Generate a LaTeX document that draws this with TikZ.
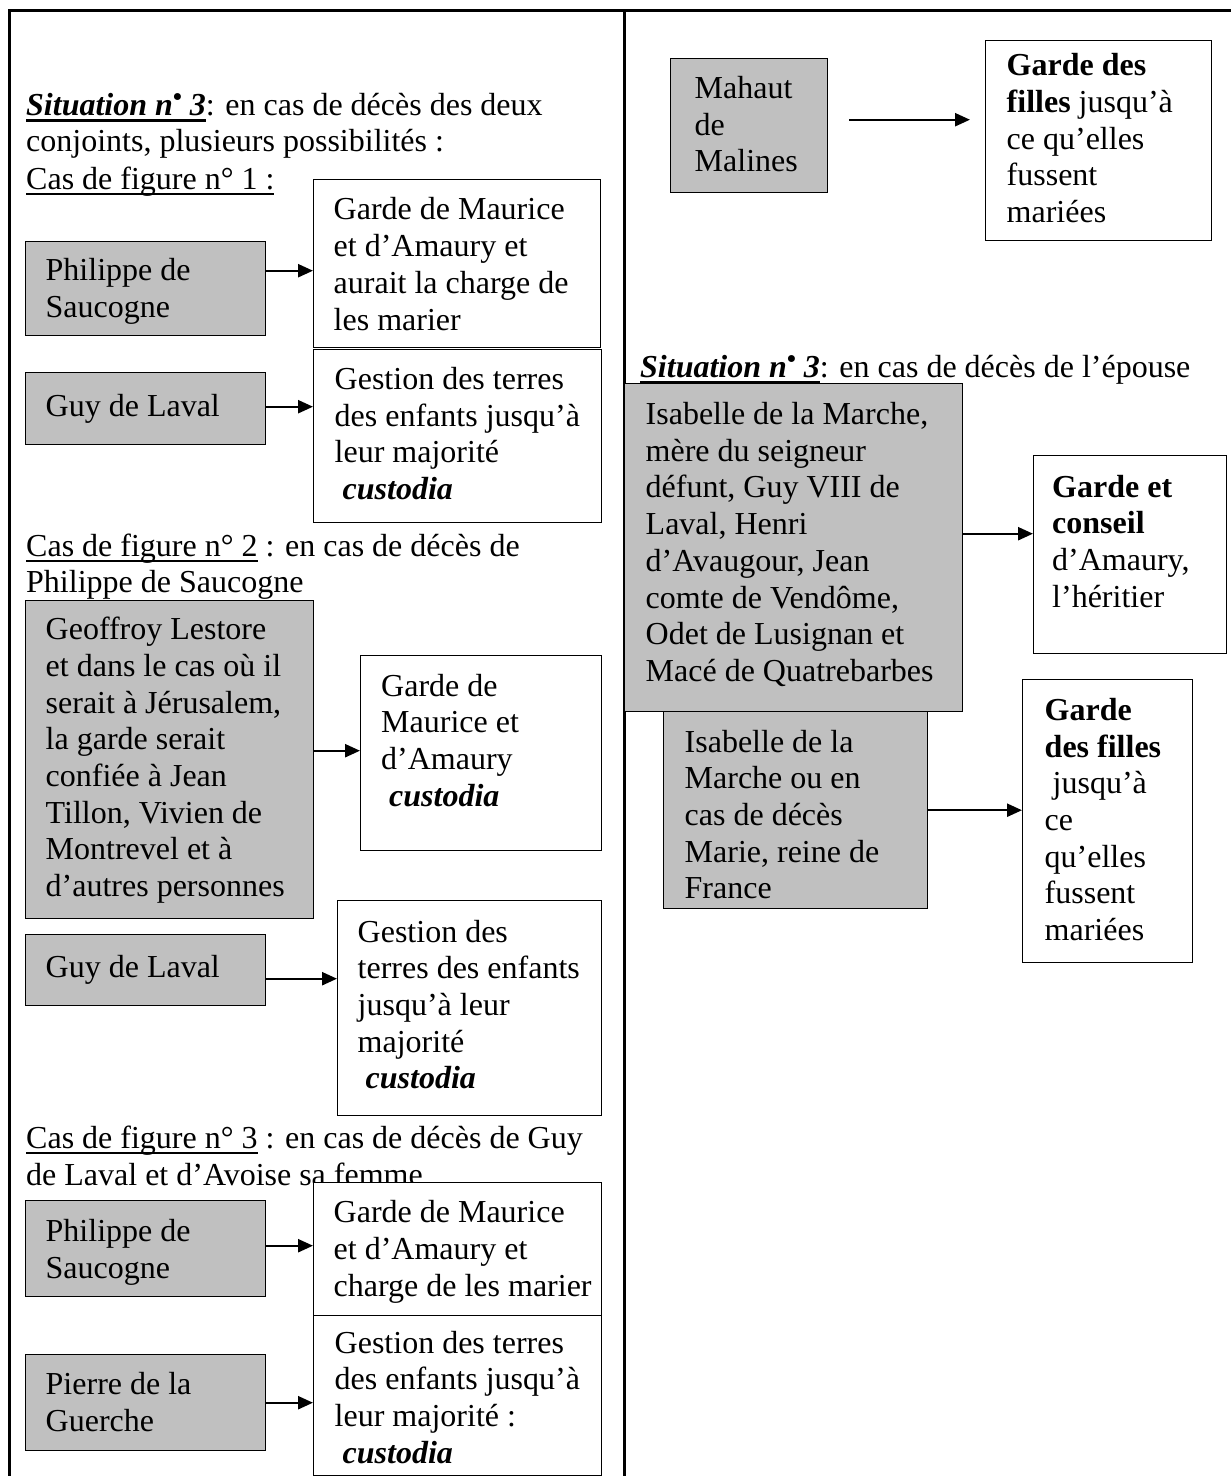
\documentclass[tikz,border=0pt]{standalone}
\usepackage{fontspec}
\setmainfont{Liberation Serif}
\usetikzlibrary{arrows.meta,calc}
\definecolor{boxgray}{RGB}{192,192,192}
\newcommand{\myul}[1]{\begingroup\setbox0=\hbox{#1}\rlap{\rule[-6pt]{\wd0}{1.8pt}}\box0\endgroup}
\newcommand{\myulb}[1]{\begingroup\setbox0=\hbox{#1}\rlap{\rule[-6.5pt]{\wd0}{3pt}}\box0\endgroup}
\newcommand{\nbul}{\raisebox{0.3em}{\scalebox{0.8}{•}}}
\newcommand{\cust}{\hspace*{0.25em}\textbf{\textit{custodia}}}
% \bx[down shift]{width}{lines}: shifts the text block down inside its box
\newcommand{\bx}[3][0pt]{\raisebox{0pt}[\height][\dimexpr\depth-#1*2\relax]{\makebox[#2][l]{\begin{tabular}{@{}l@{}}#3\end{tabular}}}}
\newcommand{\tx}[1]{\begin{tabular}[t]{@{}l@{}}#1\end{tabular}}
\begin{document}
\begin{tikzpicture}[x=1pt,y=-1pt,
  every node/.style={font=\fontsize{32pt}{36.7pt}\selectfont},
  box/.style={draw=black, line width=1.4pt, inner xsep=0pt, inner ysep=0pt, anchor=north west},
  gbox/.style={box, fill=boxgray},
  wbox/.style={box, fill=white},
  txt/.style={inner sep=0pt, anchor=base west},
  frame/.style={line width=3pt, black},
  arr/.style={line width=2.4pt, -{Triangle[length=15pt,width=13pt]}}]
\useasboundingbox (0,0) rectangle (1231,1476);
% frame
\draw[frame] (9,1476) -- (9,10) -- (1231,10);
\draw[frame] (624,10) -- (624,1476);
% free texts
\node[txt] (t1) at (26,115) {\myulb{\textbf{\textit{Situation n\nbul{} 3}}}: en cas de décès des deux};
\node[txt] (t2) at (26,151) {conjoints, plusieurs possibilités :};
\node[txt] (t3) at (26,189) {\myul{Cas de figure n° 1 :}};
\node[txt] (t4) at (26,556) {\myul{Cas de figure n° 2} : en cas de décès de};
\node[txt] (t5) at (26,592) {Philippe de Saucogne};
\node[txt] (t6) at (26,1148) {\myul{Cas de figure n° 3} : en cas de décès de Guy};
\node[txt] (t7) at (26,1185) {de Laval et d’Avoise sa femme};
\node[txt] (t8) at (640,377) {\myulb{\textbf{\textit{Situation n\nbul{} 3}}}: en cas de décès de l’épouse};
% left column boxes
\node[wbox, minimum width=287pt, minimum height=168pt] (A1) at (313,179) {\bx[4pt]{247pt}{Garde de Maurice\\et d’Amaury et\\aurait la charge de\\les marier}};
\node[gbox, minimum width=240pt, minimum height=94pt] (P1) at (25,241) {\bx[3pt]{200pt}{Philippe de\\Saucogne}};
\node[wbox, minimum width=288pt, minimum height=173pt] (A2) at (313,349) {\bx[1pt]{246pt}{Gestion des terres\\des enfants jusqu’à\\leur majorité\\\cust}};
\node[gbox, minimum width=240pt, minimum height=72pt] (G1) at (25,372) {\bx{200pt}{Guy de Laval}};
\node[gbox, minimum width=288pt, minimum height=318pt] (Geof) at (25,600) {\bx[1pt]{248pt}{Geoffroy Lestore\\et dans le cas où il\\serait à Jérusalem,\\la garde serait\\confiée à Jean\\Tillon, Vivien de\\Montrevel et à\\d’autres personnes}};
\node[wbox, minimum width=241pt, minimum height=195pt] (Garde2) at (360,655) {};
\node[txt] (Garde2t) at (381,696) {\tx{Garde de\\Maurice et\\d’Amaury\\\cust}};
\node[gbox, minimum width=240pt, minimum height=71pt] (Guy2) at (25,934) {\bx{200pt}{Guy de Laval}};
\node[wbox, minimum width=264pt, minimum height=215pt] (Gest2) at (337,900) {\bx{224pt}{Gestion des\\terres des enfants\\jusqu’à leur\\majorité\\\cust}};
\node[wbox, minimum width=288pt, minimum height=133pt] (A3) at (313,1182) {\bx[3pt]{248pt}{Garde de Maurice\\et d’Amaury et\\charge de les marier}};
\node[gbox, minimum width=240pt, minimum height=96pt] (P3) at (25,1200) {\bx[4pt]{200pt}{Philippe de\\Saucogne}};
\node[wbox, minimum width=288pt, minimum height=160pt] (Gest3) at (313,1315) {\bx[5pt]{246pt}{Gestion des terres\\des enfants jusqu’à\\leur majorité :\\\cust}};
\node[gbox, minimum width=240pt, minimum height=96pt] (Pierre) at (25,1354) {\bx[3pt]{200pt}{Pierre de la\\Guerche}};
% right column boxes
\node[gbox, minimum width=157pt, minimum height=134pt] (Mahaut) at (670,58) {\bx[2pt]{109pt}{Mahaut\\de\\Malines}};
\node[wbox, minimum width=226pt, minimum height=200pt] (GardeF1) at (985,40) {\bx[1pt]{184pt}{\textbf{Garde des}\\\textbf{filles} jusqu’à\\ce qu’elles\\fussent\\mariées}};
\node[gbox, minimum width=264pt, minimum height=197pt] (IsaM) at (663,711) {\bx[8pt]{222pt}{Isabelle de la\\Marche ou en\\cas de décès\\Marie, reine de\\France}};
\node[gbox, minimum width=338pt, minimum height=328pt] (Isa) at (624,383) {\bx[-2pt]{296pt}{Isabelle de la Marche,\\mère du seigneur\\défunt, Guy VIII de\\Laval, Henri\\d’Avaugour, Jean\\comte de Vendôme,\\Odet de Lusignan et\\Macé de Quatrebarbes}};
\node[wbox, minimum width=193pt, minimum height=198pt] (GC) at (1033,455) {};
\node[txt] (GCt) at (1052,497) {\tx{\textbf{Garde et}\\\textbf{conseil}\\d’Amaury,\\l’héritier}};
\node[wbox, minimum width=170pt, minimum height=283pt] (GardeF2) at (1022,679) {\bx[2pt]{126pt}{\textbf{Garde}\\\textbf{des filles}\\\hspace*{0.25em}jusqu’à\\ce\\qu’elles\\fussent\\mariées}};
% connectors
\coordinate (c1) at ([yshift=18pt]P1.east);
\draw[arr] (c1) -- (c1 -| A1.west);
\coordinate (c2) at ([yshift=2pt]G1.east);
\draw[arr] (c2) -- (c2 -| A2.west);
\coordinate (c3) at ([yshift=9pt]Geof.east);
\draw[arr] (c3) -- (c3 -| Garde2.west);
\coordinate (c4) at ([yshift=-8.5pt]Guy2.east);
\draw[arr] (c4) -- (c4 -| Gest2.west);
\coordinate (c5) at ([yshift=3pt]P3.east);
\draw[arr] (c5) -- (c5 -| A3.west);
\coordinate (c6) at (Pierre.east);
\draw[arr] (c6) -- (c6 -| Gest3.west);
\coordinate (m1) at ([shift={(21pt,6pt)}]Mahaut.east);
\coordinate (m2) at ([xshift=-15pt]GardeF1.west);
\draw[arr] (m1) -- (m1 -| m2);
\coordinate (c7) at ([yshift=14pt]Isa.east);
\draw[arr] (c7) -- (c7 -| GC.west);
\coordinate (c8) at (IsaM.east);
\draw[arr] (c8) -- (c8 -| GardeF2.west);
\end{tikzpicture}
\end{document}
